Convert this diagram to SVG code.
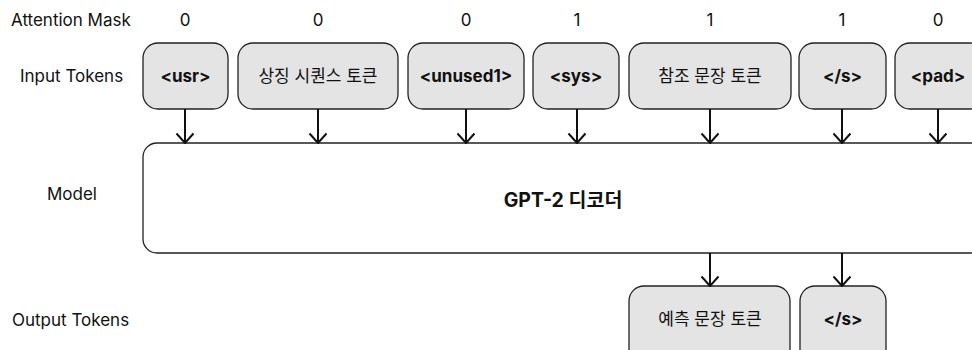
<svg xmlns="http://www.w3.org/2000/svg" width="972" height="350" viewBox="0 0 972 350">
  <defs>
    <marker id="arrow" viewBox="0 0 12 20" refX="11" refY="10" markerWidth="12" markerHeight="20" markerUnits="userSpaceOnUse" orient="auto">
      <path d="M1.5,1.5 L11,10 L1.5,18.5" fill="none" stroke="#111" stroke-width="2"/>
    </marker>
    <style>
      .lbl { font-family: Inter, "Noto Sans CJK KR", sans-serif; font-size: 17px; fill: #111; dominant-baseline: central; }
      .tok { fill: #e4e4e4; stroke: #222; stroke-width: 1.3; }
      .tt { font-family: Inter, "Noto Sans CJK KR", sans-serif; font-size: 17px; fill: #111; text-anchor: middle; dominant-baseline: central; }
      .b { font-weight: 700; }
      .edge { stroke: #111; stroke-width: 2; fill: none; marker-end: url(#arrow); }
    </style>
  </defs>

  <!-- row labels -->
  <text class="lbl" x="11" y="20">Attention Mask</text>
  <text class="lbl" x="20" y="76">Input Tokens</text>
  <text class="lbl" x="47" y="194">Model</text>
  <text class="lbl" x="12" y="320">Output Tokens</text>

  <!-- attention mask values -->
  <g id="mask">
    <text class="tt" x="185" y="20">0</text>
    <text class="tt" x="318" y="20">0</text>
    <text class="tt" x="466" y="20">0</text>
    <text class="tt" x="577" y="20">1</text>
    <text class="tt" x="710" y="20">1</text>
    <text class="tt" x="842" y="20">1</text>
    <text class="tt" x="938" y="20">0</text>
  </g>

  <!-- input tokens -->
  <g id="in-usr"><rect class="tok" x="143" y="43" width="85" height="66" rx="15"/><text class="tt b" x="185.5" y="76">&lt;usr&gt;</text></g>
  <g id="in-symbol"><rect class="tok" x="238" y="43" width="160" height="66" rx="15"/><text class="tt" x="318" y="76">상징 시퀀스 토큰</text></g>
  <g id="in-unused1"><rect class="tok" x="408" y="43" width="116" height="66" rx="15"/><text class="tt b" x="466" y="76">&lt;unused1&gt;</text></g>
  <g id="in-sys"><rect class="tok" x="533" y="43" width="86" height="66" rx="15"/><text class="tt b" x="576" y="76">&lt;sys&gt;</text></g>
  <g id="in-ref"><rect class="tok" x="629" y="43" width="162" height="66" rx="15"/><text class="tt" x="710" y="76">참조 문장 토큰</text></g>
  <g id="in-eos"><rect class="tok" x="799" y="43" width="87" height="66" rx="15"/><text class="tt b" x="842.5" y="76">&lt;/s&gt;</text></g>
  <g id="in-pad"><rect class="tok" x="895" y="43" width="90" height="66" rx="15"/><text class="tt b" x="938" y="76">&lt;pad&gt;</text></g>

  <!-- model -->
  <g id="model">
    <rect x="143" y="143" width="842" height="110" rx="14" fill="#fff" stroke="#222" stroke-width="1.3"/>
    <text class="tt b" x="563" y="200" style="font-size:19.5px">GPT-2 디코더</text>
  </g>

  <!-- output tokens -->
  <g id="out-pred"><rect class="tok" x="629" y="286" width="161" height="80" rx="15"/><text class="tt" x="710" y="319">예측 문장 토큰</text></g>
  <g id="out-eos"><rect class="tok" x="800" y="286" width="86" height="80" rx="15"/><text class="tt b" x="843" y="319">&lt;/s&gt;</text></g>

  <!-- connectors -->
  <g id="edges">
    <line class="edge" x1="185" y1="109" x2="185" y2="143"/>
    <line class="edge" x1="318" y1="109" x2="318" y2="143"/>
    <line class="edge" x1="466" y1="109" x2="466" y2="143"/>
    <line class="edge" x1="577" y1="109" x2="577" y2="143"/>
    <line class="edge" x1="710" y1="109" x2="710" y2="143"/>
    <line class="edge" x1="842" y1="109" x2="842" y2="143"/>
    <line class="edge" x1="938" y1="109" x2="938" y2="143"/>
    <line class="edge" x1="710" y1="253" x2="710" y2="286"/>
    <line class="edge" x1="842" y1="253" x2="842" y2="286"/>
  </g>
</svg>
